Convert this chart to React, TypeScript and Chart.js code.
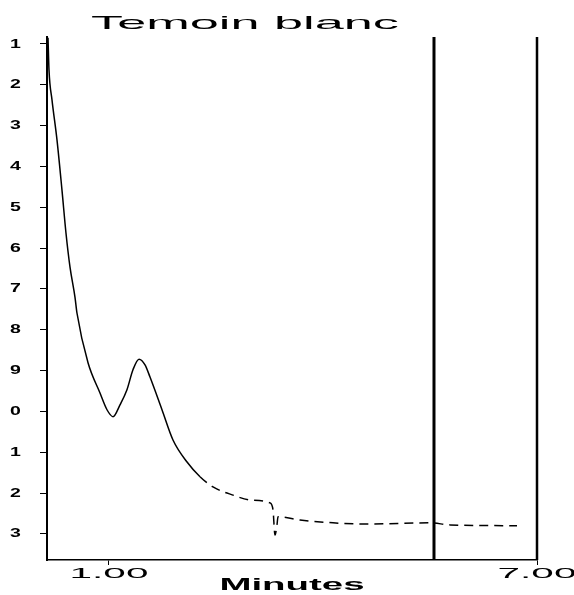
import React, { useEffect, useRef } from "react";
import { Chart, registerables } from "chart.js";

Chart.register(...registerables);

// ---- data ----
const TITLE = "Temoin blanc";
const X_TITLE = "Minutes";
const X_TICKS = [1, 7];
const X_TICK_LABELS = ["1.00", "7.00"];
const Y_TICKS = [1, 2, 3, 4, 5, 6, 7, 8, 9, 10, 11, 12, 13];
const Y_TICK_LABELS = ["1", "2", "3", "4", "5", "6", "7", "8", "9", "0", "1", "2", "3"];

// trace: time (minutes) and trace level (in row units of the left scale, top = 1)
const TRACE_TIME = [
  0.145, 0.159, 0.201, 0.271, 0.341, 0.397, 0.453, 0.523, 0.551, 0.706, 0.874, 0.972,
  1.056, 1.154, 1.252, 1.336, 1.421, 1.505, 1.575, 1.743, 1.897, 2.094, 2.276, 2.458,
  2.738, 2.977, 3.257, 3.299, 3.327, 3.355, 3.369, 3.678, 4.14, 4.617, 5.5, 5.781, 6.72,
];
const TRACE_LEVEL = [
  0.85, 1.64, 2.37, 3.35, 4.58, 5.63, 6.46, 7.2, 7.59, 8.81, 9.55, 9.96,
  10.13, 9.84, 9.47, 8.98, 8.72, 8.86, 9.16, 9.96, 10.7, 11.24, 11.6, 11.85,
  12.05, 12.17, 12.24, 12.41, 13.03, 12.78, 12.58, 12.66, 12.73, 12.76, 12.73, 12.78, 12.8,
];
const MARKER_TIMES = [5.556, 7.0];
const MARKER_WIDTHS = [3, 2.5];
const DASH_FROM_TIME = 2.2;

const X_MIN = 0.131;
const X_MAX = 7.0;
const Y_MIN = 0.83;
const Y_MAX = 13.64;

// horizontal stretch of the scanned lettering, keyed by font size
const STRETCH: Record<number, number> = { 15: 2.7, 16: 2.4, 13: 1.5 };

const stretchPlugin = {
  id: "stretchText",
  beforeDraw(chart: any) {
    const ctx = chart.ctx as any;
    if (ctx.__stretched) return;
    const orig = ctx.fillText.bind(ctx);
    ctx.fillText = (text: string, x: number, y: number, maxWidth?: number) => {
      const m = /(\d+(?:\.\d+)?)px/.exec(ctx.font);
      const size = m ? parseFloat(m[1]) : 12;
      const k = STRETCH[size] ?? 1;
      if (k === 1) return maxWidth === undefined ? orig(text, x, y) : orig(text, x, y, maxWidth);
      ctx.save();
      ctx.translate(x, y);
      ctx.scale(k, 1);
      orig(text, 0, 0);
      ctx.restore();
    };
    ctx.__stretched = true;
  },
};

export default function App() {
  const ref = useRef<HTMLCanvasElement | null>(null);

  useEffect(() => {
    if (!ref.current) return;
    const trace = TRACE_TIME.map((t, i) => ({ x: t, y: TRACE_LEVEL[i] }));
    const markers = MARKER_TIMES.map((t, i) => ({
      label: "marker" + i,
      data: [
        { x: t, y: Y_MIN },
        { x: t, y: Y_MAX },
      ],
      borderColor: "#000",
      borderWidth: MARKER_WIDTHS[i],
      pointRadius: 0,
      tension: 0,
      clip: 4,
    }));
    const chart = new Chart(ref.current, {
      type: "line",
      data: {
        datasets: [
          {
            label: TITLE,
            data: trace,
            borderColor: "#000",
            borderWidth: 1.5,
            pointRadius: 0,
            cubicInterpolationMode: "monotone",
            segment: {
              borderDash: (c: any) => (c.p0.parsed.x > DASH_FROM_TIME ? [9, 6] : undefined),
            },
          } as any,
          ...markers,
        ],
      },
      options: {
        animation: false,
        responsive: false,
        maintainAspectRatio: false,
        parsing: false as any,
        layout: { padding: { top: 37, right: 37, left: 10, bottom: 0 } },
        plugins: {
          legend: { display: false },
          tooltip: { enabled: false },
          title: { display: false },
        },
        scales: {
          x: {
            type: "linear",
            min: X_MIN,
            max: X_MAX,
            afterBuildTicks: (s: any) => {
              s.ticks = X_TICKS.map((v) => ({ value: v }));
            },
            afterFit: (s: any) => {
              s.height = 35;
            },
            ticks: {
              color: "#000",
              font: { family: "Liberation Sans", size: 15, weight: "normal" },
              padding: 0,
              maxRotation: 0,
              autoSkip: false,
              callback: (v: any) => {
                const i = X_TICKS.indexOf(Number(v));
                return i >= 0 ? X_TICK_LABELS[i] : "";
              },
            },
            grid: { drawOnChartArea: false, drawTicks: true, tickLength: 5, color: "#000" },
            border: { display: true, color: "#000", width: 1.5, dash: [40, 20] },
            title: {
              display: true,
              text: X_TITLE,
              color: "#000",
              font: { family: "Liberation Sans", size: 16, weight: "bold" },
              padding: { top: 0, bottom: 0 },
            },
          },
          y: {
            type: "linear",
            reverse: true,
            min: Y_MIN,
            max: Y_MAX,
            afterBuildTicks: (s: any) => {
              s.ticks = Y_TICKS.map((v) => ({ value: v }));
            },
            afterFit: (s: any) => {
              s.width = 37;
            },
            ticks: {
              color: "#000",
              crossAlign: "far",
              font: { family: "Liberation Sans", size: 13, weight: "bold" },
              autoSkip: false,
              callback: (v: any) => {
                const i = Y_TICKS.indexOf(Number(v));
                return i >= 0 ? Y_TICK_LABELS[i] : "";
              },
            },
            grid: { drawOnChartArea: false, drawTicks: true, tickLength: 7, color: "#000" },
            border: { display: true, color: "#000", width: 2 },
          },
        },
      },
      plugins: [stretchPlugin],
    });
    return () => chart.destroy();
  }, []);

  return (
    <div
      style={{
        position: "fixed",
        left: 0,
        top: 0,
        width: 574,
        height: 595,
        background: "#fff",
      }}
    >
      <canvas ref={ref} width={574} height={595} style={{ position: "absolute", left: 0, top: 0 }} />
      <div
        style={{
          position: "absolute",
          left: 8,
          top: 12,
          width: 474,
          textAlign: "center",
          fontFamily: "Liberation Sans, Arial, sans-serif",
          fontWeight: "normal",
          fontSize: 19,
          lineHeight: "22px",
          color: "#000",
          transform: "scaleX(2.75)",
          transformOrigin: "center",
          whiteSpace: "nowrap",
        }}
      >
        {TITLE}
      </div>
    </div>
  );
}
